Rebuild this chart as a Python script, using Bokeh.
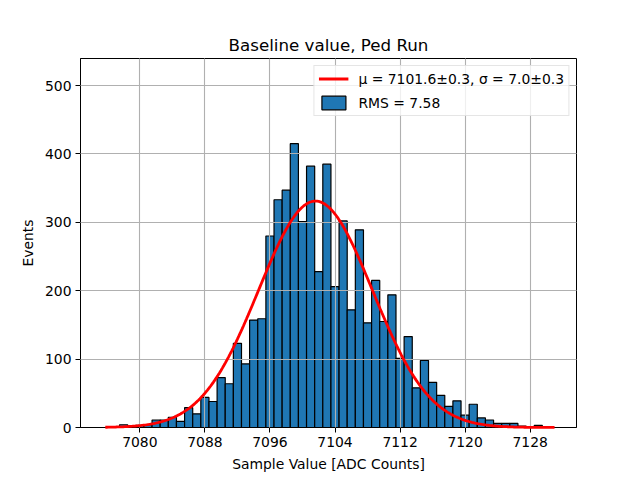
from bokeh.plotting import figure
from bokeh.embed import file_html
from bokeh.resources import INLINE
from bokeh.models import Range1d, FixedTicker, Legend, LegendItem, ColumnDataSource
import numpy as np

# Histogram data (bin centres in ADC counts, bin width 1)
bin_centers = list(range(7076, 7131))
counts = [0, 1, 4, 2, 3, 4, 11, 11, 15, 9,
          29, 20, 44, 38, 73, 64, 123, 93, 157, 159,
          280, 333, 347, 415, 301, 382, 228, 385, 206, 302,
          172, 289, 153, 215, 155, 194, 101, 133, 58, 98,
          66, 47, 31, 39, 18, 34, 14, 11, 6, 6,
          6, 2, 1, 3, 1]

# Gaussian fit parameters
fit_mu = 7101.6
fit_sigma = 7.0
fit_amp = 331.0
fit_xmin = 7075.75
fit_xmax = 7131.0

x_ticks = [7080, 7088, 7096, 7104, 7112, 7120, 7128]
y_ticks = [0, 100, 200, 300, 400, 500]

fit_label = "\u03bc = 7101.6\u00b10.3, \u03c3 = 7.0\u00b10.3"
rms_label = "RMS = 7.58"

FONT = "DejaVu Sans"

p = figure(frame_width=496, frame_height=369,
           min_border_left=80, min_border_right=20,
           min_border_top=58, min_border_bottom=45,
           output_backend="svg", toolbar_location=None,
           x_range=Range1d(7072.7, 7133.7), y_range=Range1d(0, 539.5),
           title="Baseline value, Ped Run")
p.background_fill_color = "white"
p.border_fill_color = "white"
p.outline_line_color = "black"
p.outline_line_width = 1

p.title.align = "center"
p.title.text_font = FONT
p.title.text_font_size = "16.7px"
p.title.text_font_style = "normal"
p.title.text_color = "black"
p.title.standoff = 8

src = ColumnDataSource(dict(x=bin_centers, top=counts))
bars = p.vbar(x="x", top="top", bottom=0, width=1.0, source=src,
              fill_color="#1f77b4", line_color="black", line_width=1.2)

xs = np.linspace(fit_xmin, fit_xmax, 300)
ys = fit_amp * np.exp(-0.5 * ((xs - fit_mu) / fit_sigma) ** 2)
line = p.line(xs, ys, line_color="red", line_width=2.8, level="overlay")

for ax in (p.xaxis[0], p.yaxis[0]):
    ax.major_label_text_font = FONT
    ax.major_label_text_font_size = "13.9px"
    ax.major_label_text_color = "black"
    ax.axis_label_text_font = FONT
    ax.axis_label_text_font_size = "13.9px"
    ax.axis_label_text_font_style = "normal"
    ax.axis_label_text_color = "black"
    ax.major_tick_out = 5
    ax.major_tick_in = 0
    ax.minor_tick_out = 0
    ax.minor_tick_in = 0
    ax.axis_line_color = "black"
    ax.major_tick_line_color = "black"
    ax.major_label_standoff = 4
    ax.axis_label_standoff = 6

p.xaxis[0].ticker = FixedTicker(ticks=x_ticks)
p.yaxis[0].ticker = FixedTicker(ticks=y_ticks)
p.xaxis[0].axis_label = "Sample Value [ADC Counts]"
p.yaxis[0].axis_label = "Events"

for g in (p.xgrid[0], p.ygrid[0]):
    g.grid_line_color = "#b0b0b0"
    g.grid_line_width = 1.1
    g.level = "guide"
p.xgrid[0].ticker = FixedTicker(ticks=x_ticks)
p.ygrid[0].ticker = FixedTicker(ticks=y_ticks)

legend = Legend(items=[LegendItem(label=fit_label, renderers=[line]),
                       LegendItem(label=rms_label, renderers=[bars])],
                location="top_right", margin=7, padding=4, spacing=7,
                glyph_width=30, glyph_height=17, label_height=17,
                label_standoff=10,
                label_text_font=FONT, label_text_font_size="13.9px",
                label_text_color="black",
                border_line_color="#cccccc", border_line_width=1,
                background_fill_color="white", background_fill_alpha=0.8)
p.add_layout(legend, "center")

open("out.html", "w").write(file_html(p, INLINE))
